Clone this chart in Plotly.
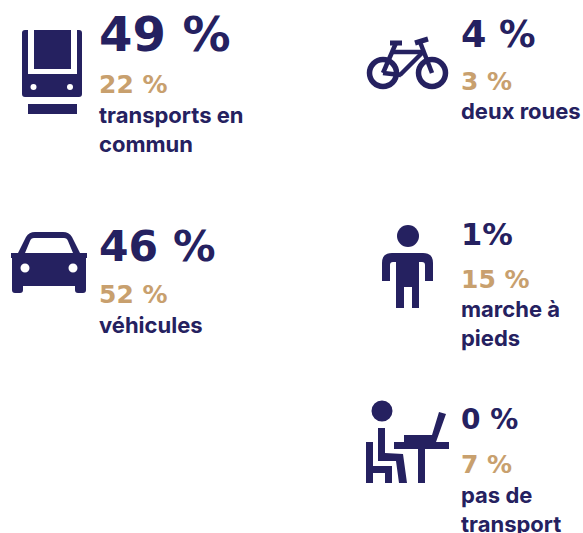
import plotly.graph_objects as go

categories = ["transports en<br>commun", "véhicules", "deux roues", "marche à<br>pieds", "pas de<br>transport"]
values_main = [49, 46, 4, 1, 0]
values_second = [22, 52, 3, 15, 7]

NAVY = "#252160"
GOLD = "#c8a06e"
BIG = "DejaVu Sans"
LABEL = "Inter"

# layout of each block: x, baseline big, size big, baseline gold, size gold, first baseline label
blocks = [
    (99, 51, 48, 93, 25, 123),
    (99, 262, 42.5, 303, 25, 333),
    (460.5, 48, 36.5, 90, 25, 119),
    (460.5, 245, 30.5, 288, 25, 317),
    (460.5, 430, 28, 473, 25, 503),
]

fig = go.Figure()
ann = []


def text(x, base, s, size, color, family, weight=700):
    ann.append(dict(x=x, y=base - size * 0.36, text=s, showarrow=False, xanchor="left", yanchor="middle",
                    align="left", xshift=-2,
                    font=dict(size=size, color=color, family=family, weight=weight)))


for cat, a, b, (x, yb, sb, yg, sg, yl) in zip(categories, values_main, values_second, blocks):
    sep = "" if a == 1 else " "
    text(x, yb, f"{a}{sep}%", sb, NAVY, BIG)
    text(x, yg, f"{b} %", sg, GOLD, BIG)
    for i, line in enumerate(cat.split("<br>")):
        text(x, yl + i * 29, line, 22, NAVY, LABEL, 700)

shapes = []


def path(d, **kw):
    shapes.append(dict(type="path", path=d, fillcolor=kw.get("fill", NAVY), line=dict(width=0), layer="above"))


def circ(cx, cy, r, fill=NAVY, stroke=None, w=0):
    shapes.append(dict(type="circle", x0=cx - r, x1=cx + r, y0=cy - r, y1=cy + r,
                       fillcolor=fill, line=dict(width=w, color=stroke or fill), layer="above"))


def seg(x0, y0, x1, y1, w=4.5):
    shapes.append(dict(type="line", x0=x0, y0=y0, x1=x1, y1=y1, line=dict(width=w, color=NAVY), layer="above"))


# tram
path("M25,30 L28,30 L28,74 L77,74 L77,30 L79,30 Q82,30 82,33 L82,94 Q82,97 79,97 L25,97 Q22,97 22,94 L22,33 Q22,30 25,30 Z")
path("M34,30 L71,30 L71,69 L34,69 Z")
path("M28,104 L77,104 L77,114 L28,114 Z")
circ(33.5, 87, 3, "white")
circ(70, 87, 3, "white")

# car
path("M11,253 L18,253 L26,237 Q29,232 35,232 L63,232 Q69,232 72,237 L80,253 L87,253 L87,258 L86,258 L86,290 Q86,293 83,293 "
     "L78,293 Q75,293 75,290 L75,286 L23,286 L23,290 Q23,293 20,293 L15,293 Q12,293 12,290 L12,258 L11,258 Z "
     "M25,253 L73,253 L68,241 Q67,238 64,238 L34,238 Q31,238 30,241 Z")
circ(25, 268, 4.5, "white")
circ(73, 268, 4.5, "white")

# bike
for cx in (383, 432):
    circ(cx, 73, 13.5, "rgba(0,0,0,0)", NAVY, 5.5)
seg(390, 43, 402, 43, 5)
seg(396, 43, 383, 73)
seg(393, 52, 423, 52)
seg(400, 75, 423, 52)
seg(383, 73, 401, 75)
seg(415, 43, 428, 39, 5)
seg(420, 42, 432, 73)

# person
circ(408, 236, 11)
path("M382,281 L382,263 Q382,253 392,253 L423,253 Q433,253 433,263 L433,281 L425,281 L425,265 Q425,262 422,262 L419,262 "
     "L419,308 L412,308 L412,287 L404,287 L404,308 L396,308 L396,262 L393,262 Q390,262 390,265 L390,281 Z")

# desk
circ(382, 411, 10.5)
path("M366,442 L373,442 L373,466 L392,466 L392,483 L385,483 L385,473 L373,473 L373,483 L366,483 Z")
path("M378,428 L385,428 L385,453 L403,454 L407,483 L399,483 L396,461 L378,461 Z")
path("M394,442 L449,442 L449,449 L425,449 L425,483 L418,483 L418,449 L394,449 Z")
path("M404,435 L432,435 L439,412 L446,414 L436,442 L404,442 Z")

fig.update_layout(
    width=583, height=533, margin=dict(l=0, r=0, t=0, b=0),
    paper_bgcolor="white", plot_bgcolor="white", showlegend=False,
    xaxis=dict(range=[0, 583], visible=False, fixedrange=True),
    yaxis=dict(range=[533, 0], visible=False, fixedrange=True),
    annotations=ann, shapes=shapes,
)
fig.write_html("out.html", config={"displayModeBar": False},
               post_script="document.body.style.margin='0';document.documentElement.style.overflow='hidden';")
